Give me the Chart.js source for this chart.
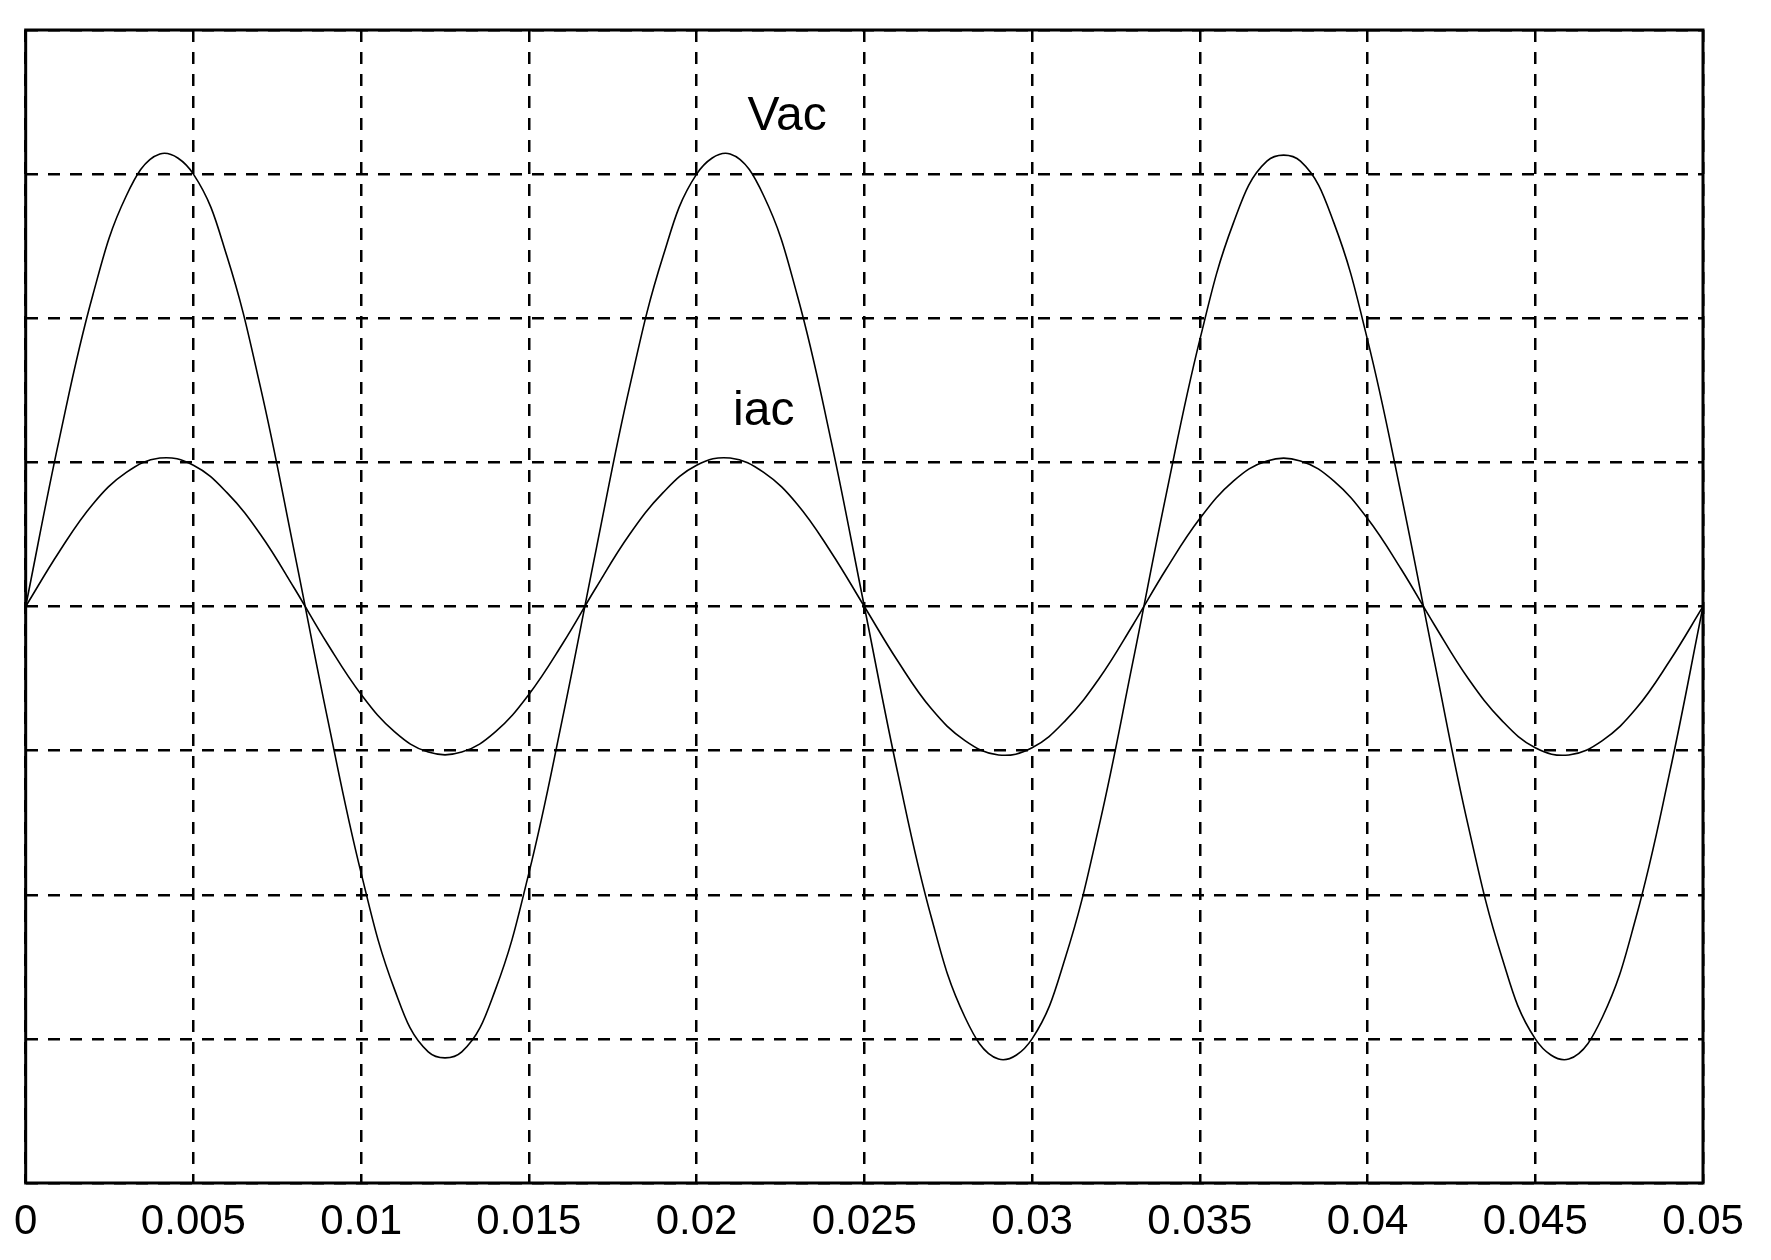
<!DOCTYPE html>
<html><head><meta charset="utf-8">
<script src="https://cdn.jsdelivr.net/npm/chart.js@4"></script>
<style>html,body{margin:0;padding:0;background:#fff}#w{width:1771px;height:1260px}</style>
</head><body><div id="w"><canvas id="c"></canvas></div>
<script>
const times = [0,0.001,0.002,0.003,0.004,0.005,0.006,0.007,0.008,0.009,0.010,0.011,0.012,0.013,0.014,0.015,0.016,0.017,0.018,0.019,0.020,0.021,0.022,0.023,0.024,0.025,0.026,0.027,0.028,0.029,0.030,0.031,0.032,0.033,0.034,0.035,0.036,0.037,0.038,0.039,0.040,0.041,0.042,0.043,0.044,0.045,0.046,0.047,0.048,0.049,0.050];
const vac = [0,1.16,2.16,2.85,3.14,3.0,2.43,1.52,0.39,-0.78,-1.85,-2.66,-3.09,-3.09,-2.66,-1.85,-0.78,0.39,1.52,2.43,3.0,3.14,2.85,2.16,1.16,0,-1.16,-2.16,-2.85,-3.14,-3.0,-2.43,-1.52,-0.39,0.78,1.85,2.66,3.09,3.09,2.66,1.85,0.78,-0.39,-1.52,-2.43,-3.0,-3.14,-2.85,-2.16,-1.16,0];
const iac = [0,0.38,0.71,0.93,1.03,0.98,0.79,0.50,0.13,-0.26,-0.61,-0.87,-1.01,-1.01,-0.87,-0.61,-0.26,0.13,0.50,0.79,0.98,1.03,0.93,0.71,0.38,0,-0.38,-0.71,-0.93,-1.03,-0.98,-0.79,-0.50,-0.13,0.26,0.61,0.87,1.01,1.01,0.87,0.61,0.26,-0.13,-0.50,-0.79,-0.98,-1.03,-0.93,-0.71,-0.38,0];
const xTicks = ['0','0.005','0.01','0.015','0.02','0.025','0.03','0.035','0.04','0.045','0.05'];
const annotations = [{text:'Vac', x:0.0227, y:3.4},{text:'iac', x:0.022, y:1.35}];

const labelPlugin = {id:'lbl', afterDatasetsDraw(ch){
  const c=ch.ctx; c.save(); c.font='48px Arial, "Liberation Sans"'; c.fillStyle='#000'; c.textAlign='center'; c.textBaseline='middle';
  annotations.forEach(a=>c.fillText(a.text, ch.scales.x.getPixelForValue(a.x), ch.scales.y.getPixelForValue(a.y)));
  c.restore();
}};
const framePlugin = {id:'frame', afterDatasetsDraw(ch){
  const c=ch.ctx,a=ch.chartArea;c.save();c.strokeStyle='#000';c.lineWidth=3;c.setLineDash([]);
  c.strokeRect(a.left,a.top,a.right-a.left,a.bottom-a.top);c.restore();}};
const mk=(d)=>times.map((t,i)=>({x:t,y:d[i]}));
new Chart(document.getElementById('c'),{
  type:'line',
  data:{datasets:[
    {label:'Vac',data:mk(vac),borderColor:'#000',borderWidth:1.6,pointRadius:0,tension:0.4},
    {label:'iac',data:mk(iac),borderColor:'#000',borderWidth:1.6,pointRadius:0,tension:0.4}
  ]},
  options:{responsive:true,maintainAspectRatio:false,animation:false,
    layout:{padding:{left:22,right:68,top:30,bottom:0}},
    plugins:{legend:{display:false},tooltip:{enabled:false}},
    scales:{
      x:{type:'linear',min:0,max:0.05,
        afterBuildTicks(s){s.ticks=xTicks.map(v=>({value:parseFloat(v)}));},
        afterFit(s){s.height=77;},
        ticks:{autoSkip:false,maxRotation:0,color:'#000',font:{size:42,family:'Arial'},padding:14,callback:(v,i)=>xTicks[i]},
        grid:{color:'#000',lineWidth:2.5,drawTicks:false},
        border:{display:false,dash:[12,10]}},
      y:{min:-4,max:4,ticks:{display:false,stepSize:1},afterFit(s){s.width=0;},
        grid:{color:'#000',lineWidth:2.5,drawTicks:false},
        border:{display:false,dash:[12,10]}}
    }
  },
  plugins:[labelPlugin,framePlugin]
});
</script>
</body></html>
